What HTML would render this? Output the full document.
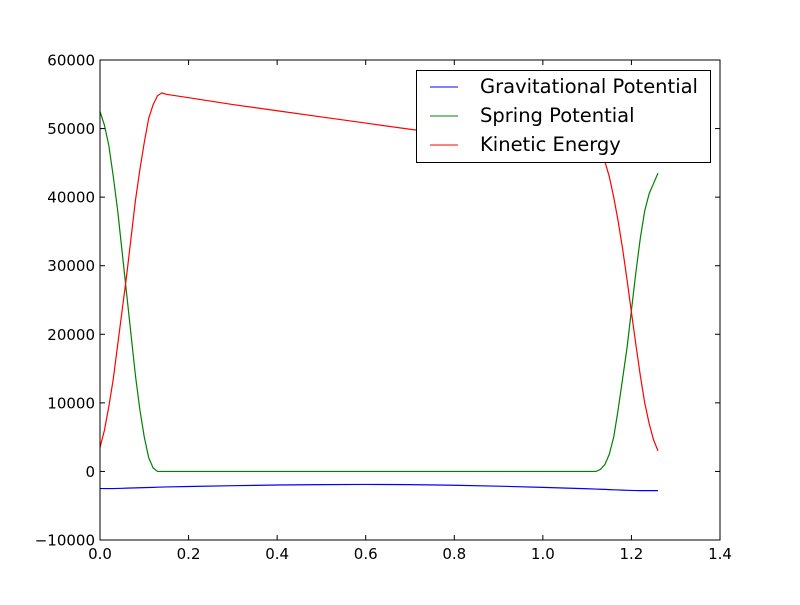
<!DOCTYPE html>
<html><head><meta charset="utf-8"><style>
body{margin:0;background:#fff;}
svg text{font-family:"DejaVu Sans","Liberation Sans",sans-serif;}
</style></head><body>
<svg id="chart" width="800" height="600" xmlns="http://www.w3.org/2000/svg">
<rect x="0" y="0" width="800" height="600" fill="#fff"/>
<g id="plot"></g>
<rect x="100" y="60" width="620" height="480" fill="none" stroke="#000" stroke-width="1"/>
<g id="ticks"></g>
<g>
<rect x="416.5" y="70.5" width="294" height="92" fill="#fff" stroke="#000"/>
<line x1="430" y1="87" x2="458" y2="87" stroke="#0000ff"/>
<text x="480" y="93" font-size="19.5">Gravitational Potential</text>
<line x1="430" y1="116" x2="458" y2="116" stroke="#008000"/>
<text x="480" y="122" font-size="19.5">Spring Potential</text>
<line x1="430" y1="145" x2="458" y2="145" stroke="#ff0000"/>
<text x="480" y="151" font-size="19.5">Kinetic Energy</text>
</g>
</svg>
<script>
const xs=[0,0.01,0.02,0.03,0.04,0.05,0.06,0.07,0.08,0.09,0.10,0.11,0.12,0.13,0.14,0.15,0.2,0.3,0.4,0.5,0.6,0.7,0.8,0.9,1.0,1.1,1.12,1.13,1.14,1.15,1.16,1.17,1.18,1.19,1.20,1.21,1.22,1.23,1.24,1.25,1.26];
const grav=[-2500,-2500,-2500,-2500,-2480,-2460,-2440,-2420,-2400,-2380,-2360,-2340,-2320,-2300,-2280,-2260,-2200,-2080,-1980,-1920,-1900,-1930,-2020,-2150,-2320,-2530,-2570,-2600,-2620,-2650,-2680,-2700,-2730,-2750,-2770,-2790,-2800,-2800,-2800,-2800,-2800];
const spring=[52500,50500,47500,43000,38000,32000,26000,20000,14000,9000,5000,2000,500,0,0,0,0,0,0,0,0,0,0,0,0,0,0,300,1000,2500,5000,9000,13500,18000,23500,29000,34000,38000,40500,42000,43500];
const kinetic=[3500,6000,9500,13500,18500,23500,28500,34000,39500,44000,48000,51500,53500,54800,55200,55000,54500,53500,52600,51700,50800,49900,49100,48300,47500,46700,46500,46200,45200,43000,40000,36500,32500,28000,23200,18500,14000,10000,7000,4600,3000];
const xTicks=[0,0.2,0.4,0.6,0.8,1.0,1.2,1.4];
const xTickLabels=["0.0","0.2","0.4","0.6","0.8","1.0","1.2","1.4"];
const yTicks=[-10000,0,10000,20000,30000,40000,50000,60000];
const yTickLabels=["\u221210000","0","10000","20000","30000","40000","50000","60000"];
const X=v=>100+v/1.4*620, Y=v=>540-(v+10000)/70000*480;
const NS="http://www.w3.org/2000/svg";
const plot=document.getElementById('plot'), tk=document.getElementById('ticks');
function line(arr,color,name){
 const p=document.createElementNS(NS,'polyline');
 p.setAttribute('points',xs.map((x,i)=>X(x).toFixed(2)+','+Y(arr[i]).toFixed(2)).join(' '));
 p.setAttribute('fill','none');p.setAttribute('stroke',color);p.setAttribute('stroke-width','1.2');
 
 
 plot.appendChild(p);
}
line(grav,'#0000ff','gravitational-potential-line');
line(spring,'#008000','spring-potential-line');
line(kinetic,'#ff0000','kinetic-energy-line');
function el(tag,attrs,parent){const e=document.createElementNS(NS,tag);for(const k in attrs)e.setAttribute(k,attrs[k]);parent.appendChild(e);return e;}
xTicks.forEach((v,i)=>{
 const x=X(v);
 el('line',{x1:x,y1:540,x2:x,y2:535,stroke:'#000'},tk);
 el('line',{x1:x,y1:60,x2:x,y2:65,stroke:'#000'},tk);
 const t=el('text',{x:x,y:559,'font-size':'15','text-anchor':'middle'},tk);
 t.textContent=xTickLabels[i];
 
 
});
yTicks.forEach((v,i)=>{
 const y=Y(v);
 el('line',{x1:100,y1:y,x2:105,y2:y,stroke:'#000'},tk);
 el('line',{x1:720,y1:y,x2:715,y2:y,stroke:'#000'},tk);
 const t=el('text',{x:95,y:y+5.5,'font-size':'15','text-anchor':'end'},tk);
 t.textContent=yTickLabels[i];
 
 
});
</script>
</body></html>
